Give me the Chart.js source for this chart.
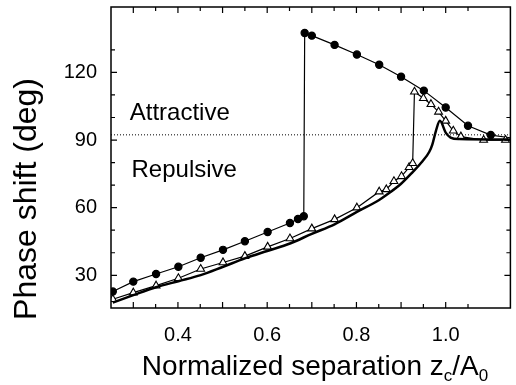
<!DOCTYPE html>
<html>
<head>
<meta charset="utf-8">
<script src="https://cdn.jsdelivr.net/npm/chart.js@4.4.1/dist/chart.umd.min.js"></script>
<style>
html, body { margin: 0; padding: 0; background: #fff; }
</style>
</head>
<body>
<canvas id="grafico" width="516" height="385"></canvas>
<script>
// filled circles (jump at z ~ 0.68)
const circuloX = [0.254, 0.300, 0.351, 0.401, 0.451, 0.501, 0.550, 0.601, 0.651, 0.669, 0.682,
                  0.684, 0.700, 0.751, 0.801, 0.851, 0.900, 0.951, 1.000, 1.050, 1.101, 1.145];
const circuloY = [22.8, 27.2, 30.6, 33.8, 37.8, 41.3, 45.1, 49.2, 53.2, 55.0, 56.2,
                  137.5, 136.3, 132.2, 127.9, 123.4, 118.1, 111.9, 104.4, 96.3, 92.2, 91.0];

// open triangles (jump at z ~ 0.93)
const trianguloX = [0.254, 0.300, 0.351, 0.401, 0.451, 0.501, 0.550, 0.601, 0.651, 0.700, 0.751, 0.801,
                    0.851, 0.867, 0.884, 0.901, 0.918, 0.926,
                    0.930, 0.950, 0.967, 0.984, 1.000, 1.017, 1.034, 1.085, 1.134];
const trianguloY = [19.4, 22.3, 25.4, 28.7, 32.8, 35.7, 38.5, 42.6, 46.3, 50.7, 54.8, 60.0,
                    67.1, 68.1, 71.7, 73.9, 77.9, 79.7,
                    111.4, 108.5, 105.9, 102.5, 98.5, 94.1, 91.5, 90.0, 90.0];

// thick solid curve
const curvaX = [0.254, 0.300, 0.351, 0.401, 0.451, 0.500, 0.550, 0.600, 0.651, 0.700, 0.751, 0.801,
                0.850, 0.867, 0.900, 0.926, 0.948, 0.963, 0.970, 0.978, 0.987, 1.000, 1.011, 1.030, 1.145];
const curvaY = [17.9, 21.2, 24.7, 27.4, 30.1, 33.7, 37.5, 40.8, 44.1, 48.4, 52.6, 58.1,
                63.3, 65.6, 70.6, 75.8, 80.6, 84.7, 88.0, 94.0, 98.5, 93.3, 91.1, 90.4, 90.2];

const limiteFase = 92.3;
const rotulosX = [0.4, 0.6, 0.8, 1.0];
const rotulosY = [30, 60, 90, 120];

const regioes = [
    { texto: 'Attractive', x: 0.292, y: 99.0 },
    { texto: 'Repulsive', x: 0.296, y: 73.8 }
];

const pontos = (xs, ys) => xs.map((v, i) => ({ x: v, y: ys[i] }));
const fonte = '"Liberation Sans", Arial, sans-serif';

const molduraPlugin = {
    id: 'moldura',
    beforeDatasetsDraw(chart) {
        const { ctx, chartArea: a, scales: { y } } = chart;
        const yb = y.getPixelForValue(limiteFase);
        ctx.save();
        ctx.strokeStyle = '#000';
        ctx.lineWidth = 1;
        ctx.setLineDash([1, 2]);
        ctx.beginPath();
        ctx.moveTo(a.left, yb);
        ctx.lineTo(a.right, yb);
        ctx.stroke();
        ctx.restore();
    },
    afterDraw(chart) {
        const { ctx, chartArea: a, scales: { x, y } } = chart;
        ctx.save();
        ctx.strokeStyle = '#000';
        ctx.lineWidth = 1.5;
        ctx.strokeRect(a.left, a.top, a.right - a.left, a.bottom - a.top);

        // inward ticks on all four sides
        ctx.lineWidth = 1.2;
        x.ticks.forEach(t => {
            const k = t.value / 0.05;
            if (Math.abs(k - Math.round(k)) > 1e-6) return;
            const px = x.getPixelForValue(t.value);
            if (px <= a.left + 1 || px >= a.right - 1) return;
            const len = Math.abs(t.value * 10 - Math.round(t.value * 10)) < 1e-6 ? 6 : 4;
            ctx.beginPath();
            ctx.moveTo(px, a.bottom); ctx.lineTo(px, a.bottom - len);
            ctx.moveTo(px, a.top); ctx.lineTo(px, a.top + len);
            ctx.stroke();
        });
        y.ticks.forEach(t => {
            if (Math.abs(t.value / 10 - Math.round(t.value / 10)) > 1e-6) return;
            const py = y.getPixelForValue(t.value);
            if (py <= a.top + 1 || py >= a.bottom - 1) return;
            const len = t.value % 30 === 0 ? 6 : 4;
            ctx.beginPath();
            ctx.moveTo(a.left, py); ctx.lineTo(a.left + len, py);
            ctx.moveTo(a.right, py); ctx.lineTo(a.right - len, py);
            ctx.stroke();
        });

        // region labels
        ctx.fillStyle = '#000';
        ctx.font = '24px ' + fonte;
        ctx.textAlign = 'left';
        ctx.textBaseline = 'alphabetic';
        regioes.forEach(r => {
            ctx.fillText(r.texto, x.getPixelForValue(r.x), y.getPixelForValue(r.y));
        });

        // x title with subscripts
        const grande = '28px ' + fonte;
        const pequeno = '17px ' + fonte;
        const partes = [
            { t: 'Normalized separation z', f: grande, dy: 0 },
            { t: 'c', f: pequeno, dy: 6 },
            { t: '/A', f: grande, dy: 0 },
            { t: '0', f: pequeno, dy: 6 }
        ];
        let total = 0;
        partes.forEach(p => { ctx.font = p.f; p.w = ctx.measureText(p.t).width; total += p.w; });
        let cx = 315 - total / 2;
        const base = 375;
        partes.forEach(p => {
            ctx.font = p.f;
            ctx.fillText(p.t, cx, base + p.dy);
            cx += p.w;
        });

        // y title
        ctx.translate(27, 199);
        ctx.rotate(-Math.PI / 2);
        ctx.font = '32px ' + fonte;
        ctx.textAlign = 'center';
        ctx.textBaseline = 'middle';
        ctx.fillText('Phase shift (deg)', 0, 0);
        ctx.restore();
    }
};

const ctx = document.getElementById('grafico').getContext('2d');

const grafico = new Chart(ctx, {
    type: 'scatter',
    data: {
        datasets: [
            {
                label: 'curva',
                data: pontos(curvaX, curvaY),
                showLine: true,
                borderColor: '#000',
                borderWidth: 2.5,
                pointRadius: 0,
                cubicInterpolationMode: 'monotone'
            },
            {
                label: 'triangulos',
                data: pontos(trianguloX, trianguloY),
                showLine: true,
                borderColor: '#000',
                borderWidth: 1.2,
                pointStyle: 'triangle',
                pointRadius: 4.5,
                pointBorderWidth: 1.1,
                pointBackgroundColor: '#fff',
                pointBorderColor: '#000'
            },
            {
                label: 'circulos',
                data: pontos(circuloX, circuloY),
                showLine: true,
                borderColor: '#000',
                borderWidth: 1.2,
                pointStyle: 'circle',
                pointRadius: c => c.dataIndex === circuloX.length - 1 ? 0 : 3.6,
                pointBackgroundColor: '#000',
                pointBorderColor: '#000'
            }
        ]
    },
    options: {
        responsive: false,
        animation: false,
        layout: { padding: { top: 7, right: 1, left: 0, bottom: 0 } },
        plugins: {
            legend: { display: false },
            tooltip: { enabled: false }
        },
        scales: {
            x: {
                type: 'linear',
                min: 0.25,
                max: 1.145,
                afterFit: s => {
                    s.height = 77;
                    s.paddingLeft = 0; s.paddingRight = 0;
                    s.paddingTop = 0; s.paddingBottom = 0;
                },
                grid: { display: false, drawTicks: false },
                border: { display: false },
                ticks: {
                    stepSize: 0.05,
                    autoSkip: false,
                    maxRotation: 0,
                    padding: 15,
                    color: '#000',
                    font: { family: fonte, size: 20 },
                    callback: v => {
                        const r = Math.round(v * 100) / 100;
                        return rotulosX.includes(r) ? r.toFixed(1) : '';
                    }
                }
            },
            y: {
                min: 15.5,
                max: 149,
                afterFit: s => {
                    s.width = 111;
                    s.paddingLeft = 0; s.paddingRight = 0;
                    s.paddingTop = 0; s.paddingBottom = 0;
                },
                grid: { display: false, drawTicks: false },
                border: { display: false },
                ticks: {
                    stepSize: 10,
                    autoSkip: false,
                    padding: 14,
                    color: '#000',
                    font: { family: fonte, size: 20 },
                    callback: v => rotulosY.includes(Math.round(v * 1000) / 1000) ? String(v) : ''
                }
            }
        }
    },
    plugins: [molduraPlugin]
});
</script>
</body>
</html>
